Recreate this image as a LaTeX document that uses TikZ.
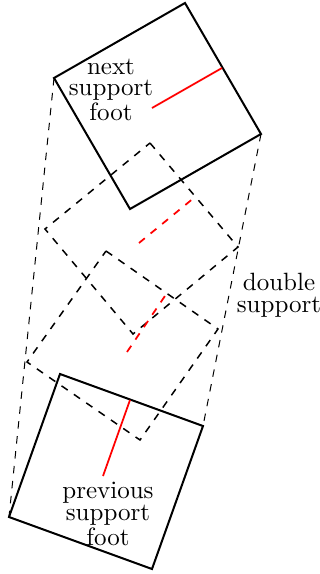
\documentclass[tikz,border=0pt]{standalone}
\begin{document}
\begin{tikzpicture}[x=0.4pt,y=-0.4pt,
  foot/.style={draw,line width=0.8pt,line join=miter},
  ghost/.style={draw,dashed,line width=0.6pt},
  hull/.style={draw,dashed,line width=0.4pt},
  dir/.style={draw,red,line width=0.7pt},
  ghostdir/.style={draw,red,dashed,line width=0.7pt},
  lbl/.style={align=center,font=\fontsize{10}{8.6}\selectfont,inner sep=0pt}]
\useasboundingbox (0,0) rectangle (320,574);
% next support foot corners
\coordinate (n1) at (54,78);
\coordinate (n2) at (185,3);
\coordinate (n3) at (261,134);
\coordinate (n4) at (130,209);
% previous support foot corners
\coordinate (p1) at (60,374);
\coordinate (p2) at (203,426);
\coordinate (p3) at (152,569);
\coordinate (p4) at (9,517);
% intermediate (double support) feet
\coordinate (a1) at (150,143);
\coordinate (a2) at (238,247);
\coordinate (a3) at (133,334);
\coordinate (a4) at (45,229);
\coordinate (b1) at (106,251);
\coordinate (b2) at (218,329);
\coordinate (b3) at (140,440);
\coordinate (b4) at (27,362);
% direction lines
\coordinate (nd1) at (152,108);
\coordinate (nd2) at (222,68);
\coordinate (pd1) at (130,400);
\coordinate (pd2) at (103,476);
\coordinate (ad1) at (139,243);
\coordinate (ad2) at (195,197);
\coordinate (bd1) at (127,352);
\coordinate (bd2) at (167,293);

\path[foot] (n1) -- (n2) -- (n3) -- (n4) -- cycle;
\path[foot] (p1) -- (p2) -- (p3) -- (p4) -- cycle;
\path[ghost] (a1) -- (a2) -- (a3) -- (a4) -- cycle;
\path[ghost] (b1) -- (b2) -- (b3) -- (b4) -- cycle;
\path[hull] (n1) -- (p4);
\path[hull] (n3) -- (p2);
\path[dir] (nd1) -- (nd2);
\path[dir] (pd1) -- (pd2);
\path[ghostdir] (ad1) -- (ad2);
\path[ghostdir] (bd1) -- (bd2);

\node[lbl] (tnext) at (111,90) {next\\support\\foot};
\node[lbl] (tdouble) at (279,295) {double\\support};
\node[lbl] (tprev) at (108,514) {previous\\support\\foot};
\end{tikzpicture}
\end{document}
